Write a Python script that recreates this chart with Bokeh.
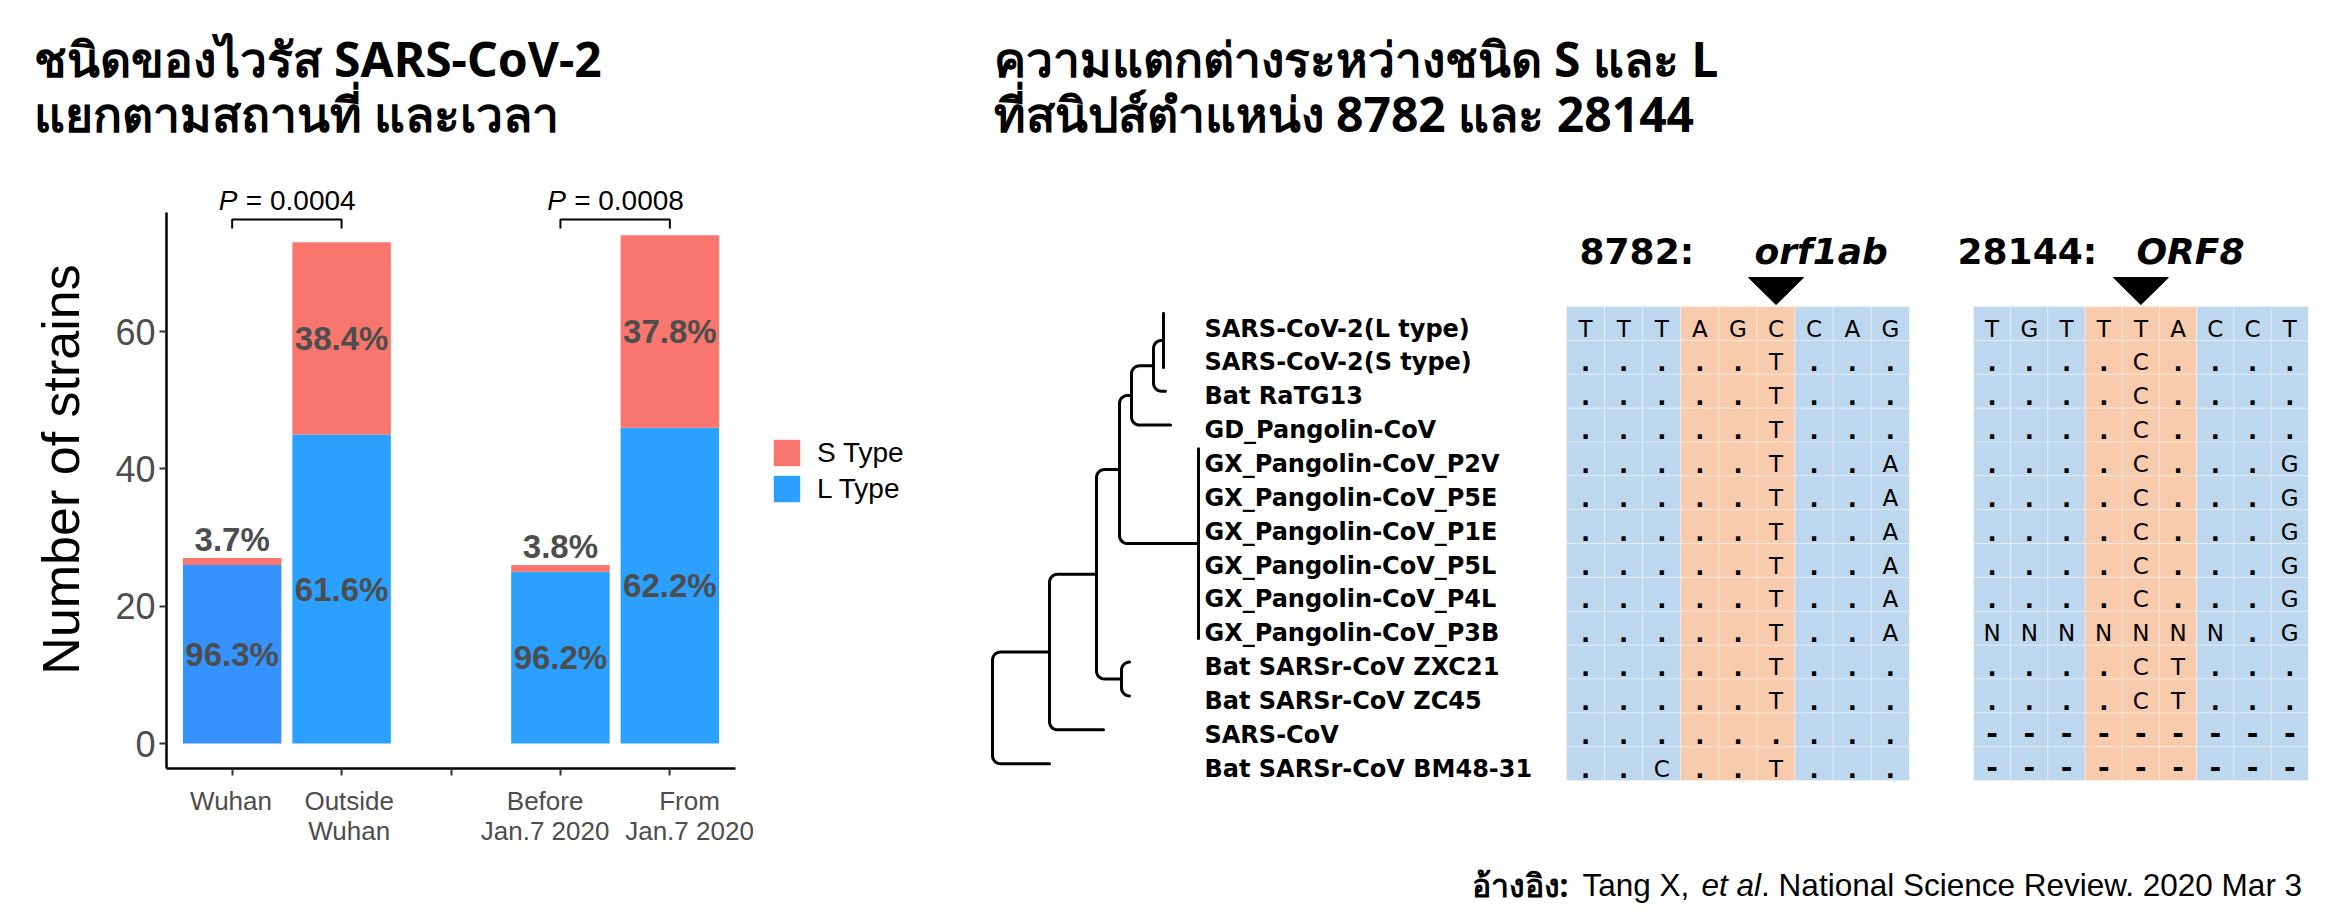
import math
from bokeh.plotting import figure
from bokeh.models import (Range1d, Label, Legend, LegendItem, ColumnDataSource, FixedTicker,
                          LinearAxis)
from bokeh.layouts import row, column
from bokeh.embed import file_html
from bokeh.resources import INLINE
from bokeh.core.properties import value

# ---------------- data : bar chart ----------------
tick_pos = [1, 2, 3, 4, 5]
group_labels = ["Wuhan", "Outside\nWuhan", "Before\nJan.7 2020", "From\nJan.7 2020"]
bar_pos = [1, 2, 4, 5]
l_type = [26, 45, 25, 46]
s_type = [1, 28, 1, 28]
p_pairs = [(1, 2), (4, 5)]
p_values = ["0.0004", "0.0008"]
y_ticks = [0, 20, 40, 60]

# ---------------- data : alignment ----------------
strains = ["SARS-CoV-2(L type)", "SARS-CoV-2(S type)", "Bat RaTG13", "GD_Pangolin-CoV",
           "GX_Pangolin-CoV_P2V", "GX_Pangolin-CoV_P5E", "GX_Pangolin-CoV_P1E",
           "GX_Pangolin-CoV_P5L", "GX_Pangolin-CoV_P4L", "GX_Pangolin-CoV_P3B",
           "Bat SARSr-CoV ZXC21", "Bat SARSr-CoV ZC45", "SARS-CoV", "Bat SARSr-CoV BM48-31"]
seq_8782 = ["TTTAGCCAG", ".....T...", ".....T...", ".....T...",
            ".....T..A", ".....T..A", ".....T..A", ".....T..A", ".....T..A", ".....T..A",
            ".....T...", ".....T...", ".........", "..C..T..."]
seq_28144 = ["TGTTTACCT", "....C....", "....C....", "....C....",
             "....C...G", "....C...G", "....C...G", "....C...G", "....C...G", "NNNNNNN.G",
             "....CT...", "....CT...", "---------", "---------"]
snp_col = [5, 4]
highlight_cols = [3, 4, 5]

# tree: (depth, leaf_row) or (depth, [children])
tree = (0.00, [
    (0.57, 13),
    (0.57, [
        (1.11, 12),
        (1.04, [
            (1.29, [(1.37, 10), (1.37, 11)]),
            (1.27, [
                (2.06, [(2.06, 4), (2.06, 5), (2.06, 6), (2.06, 7), (2.06, 8), (2.06, 9)]),
                (1.39, [
                    (1.78, 3),
                    (1.61, [
                        (1.73, 2),
                        (1.71, [(1.71, 0), (1.71, 1)]),
                    ]),
                ]),
            ]),
        ]),
    ]),
])

# ---------------- styles / layout ----------------
RED = "#F8766D"
BLUE_L = ["#3592FE", "#2BA0FE", "#2BA0FE", "#2BA0FE"]
CELL_BLUE = "#BDD7EE"
CELL_ORANGE = "#F8CBAD"
GREY = "#4D4D4D"
ARIAL = "Liberation Sans"
DEJ = "DejaVu Sans"
THAI = "Noto Sans"

PAGE_W, PAGE_H = 2330, 916
HEAD_H = 150
BODY_H = PAGE_H - HEAD_H
W1 = 950
W2 = PAGE_W - W1

# ---------- header (titles) ----------
head = figure(width=PAGE_W, height=HEAD_H, x_range=Range1d(0, PAGE_W), y_range=Range1d(0, HEAD_H),
              x_axis_type=None, y_axis_type=None, min_border=0, output_backend="svg",
              toolbar_location=None)
head.outline_line_color = None
head.frame_align = False
titles = [("ชนิดของไวรัส SARS-CoV-2", 33, 58), ("แยกตามสถานที่ และเวลา", 33, 113),
          ("ความแตกต่างระหว่างชนิด S และ L", 993, 58), ("ที่สนิปส์ตำแหน่ง 8782 และ 28144", 993, 113)]
for txt, x, mid in titles:
    head.add_layout(Label(x=x, y=HEAD_H - mid, x_units="screen", y_units="screen", text=txt,
                          text_font=THAI, text_font_style="bold", text_font_size="48px",
                          text_color="black", text_align="left", text_baseline="middle"))

# ---------- bar chart ----------
FL, FT, FB = 166, 170, 768          # page pixels of frame left / top / bottom
AX_RIGHT = 735
UNIT_X = (AX_RIGHT - FL) / 5.2
PX_PER_UNIT = 412 / 60.0
ZERO_PX = 743
y_lo = -(FB - ZERO_PX) / PX_PER_UNIT
y_axis_top = (ZERO_PX - 212) / PX_PER_UNIT

p1 = figure(width=W1, height=BODY_H,
            x_range=Range1d(0.4, 0.4 + (W1 - FL) / UNIT_X),
            y_range=Range1d(y_lo, (ZERO_PX - FT) / PX_PER_UNIT),
            output_backend="svg", toolbar_location=None,
            min_border_left=FL, min_border_right=0,
            min_border_top=FT - HEAD_H, min_border_bottom=PAGE_H - FB)
p1.frame_align = False
p1.grid.visible = False
p1.outline_line_color = None

tot = [l + s for l, s in zip(l_type, s_type)]
src = ColumnDataSource(dict(x=bar_pos, l=l_type, tot=tot, lcol=BLUE_L))
r_l = p1.vbar(x="x", bottom=0, top="l", width=0.9, fill_color="lcol", line_color=None, source=src)
r_s = p1.vbar(x="x", bottom="l", top="tot", width=0.9, fill_color=RED, line_color=None, source=src)

lx, ly, lt = [], [], []
for x, l, s in zip(bar_pos, l_type, s_type):
    t = l + s
    lx.append(x); ly.append(l / 2.0); lt.append(f"{100.0 * l / t:.1f}%")
    lx.append(x)
    ly.append(l + s / 2.0 if s >= 5 else t + 2.7)
    lt.append(f"{100.0 * s / t:.1f}%")
p1.text(x=lx, y=ly, text=lt, text_font=value(ARIAL), text_font_style="bold",
        text_font_size="33px", text_color=GREY, text_align="center", text_baseline="middle")

# p-value brackets
BR_Y, BR_LEG = 76.3, 75.0
bxs, bys = [], []
for a, b in p_pairs:
    bxs.append([a, a, b, b]); bys.append([BR_LEG, BR_Y, BR_Y, BR_LEG])
p1.multi_line(xs=bxs, ys=bys, line_color="black", line_width=2)
for (a, b), pv in zip(p_pairs, p_values):
    mid = (a + b) / 2.0
    p1.add_layout(Label(x=mid, y=79.1, text="P", x_offset=-68, text_align="left",
                        text_baseline="middle", text_font=ARIAL, text_font_style="italic",
                        text_font_size="28px", text_color="black"))
    p1.add_layout(Label(x=mid, y=79.1, text="= " + pv, x_offset=-41, text_align="left",
                        text_baseline="middle", text_font=ARIAL, text_font_size="28px",
                        text_color="black"))

# axes
p1.xaxis.ticker = FixedTicker(ticks=tick_pos)
p1.xaxis.major_label_overrides = {k: "" for k in tick_pos}
p1.xaxis.major_label_text_font_size = "1px"
p1.xaxis.major_label_standoff = 0
p1.xaxis.bounds = (0.4, 5.6)
p1.yaxis.ticker = FixedTicker(ticks=y_ticks)
p1.yaxis.bounds = (y_lo, y_axis_top)
for ax in (p1.xaxis, p1.yaxis):
    ax.axis_line_width = 2.5
    ax.axis_line_color = "black"
    ax.major_tick_line_color = "#333333"
    ax.major_tick_line_width = 2
    ax.major_tick_out = 7
    ax.major_tick_in = 0
    ax.minor_tick_line_color = None
    ax.major_label_text_font = ARIAL
    ax.major_label_text_color = GREY
p1.yaxis.major_label_text_font_size = "36px"
p1.yaxis.major_label_standoff = 4
p1.yaxis.axis_label = "Number of strains"
p1.yaxis.axis_label_text_font = ARIAL
p1.yaxis.axis_label_text_font_style = "normal"
p1.yaxis.axis_label_text_font_size = "52px"
p1.yaxis.axis_label_text_color = "black"
p1.yaxis.axis_label_standoff = 22

# category labels (second, line-less axis so each label can sit where the reference has it)
label_at = [0.99, 2.07, 3.86, 5.18]
lab_axis = LinearAxis(ticker=FixedTicker(ticks=label_at),
                      major_label_overrides={k: v for k, v in zip(label_at, group_labels)},
                      axis_line_color=None, major_tick_line_color=None,
                      minor_tick_line_color=None, major_label_standoff=4,
                      major_label_text_font=ARIAL, major_label_text_font_size="26px",
                      major_label_text_color=GREY, major_label_text_line_height=1.0)
p1.add_layout(lab_axis, "below")

# legend (inside the widened frame); location = bottom-left corner relative to frame
legend = Legend(items=[LegendItem(label="S Type", renderers=[r_s], index=1),
                       LegendItem(label="L Type", renderers=[r_l], index=1)],
                location=(770 - FL, FB - 505), glyph_width=33, glyph_height=33,
                label_height=33, spacing=3, padding=0, margin=0, label_standoff=14,
                label_text_font=ARIAL, label_text_font_size="28px", label_text_color="black",
                border_line_color=None, background_fill_alpha=0)
p1.add_layout(legend)

# ---------- right panel ----------
X0 = W1
ROW0, ROWH = 323.0, 33.86
p2 = figure(width=W2, height=BODY_H, x_range=Range1d(X0, X0 + W2),
            y_range=Range1d((PAGE_H - ROW0) / ROWH, (HEAD_H - ROW0) / ROWH),
            x_axis_type=None, y_axis_type=None, min_border=0,
            output_backend="svg", toolbar_location=None)
p2.frame_align = False
p2.outline_line_color = None

grids = [dict(seqs=seq_8782, x0=1566.0, cw=38.1, snp=snp_col[0],
              head=[("8782:", 1579, "normal"), ("orf1ab", 1754, "italic")]),
         dict(seqs=seq_28144, x0=1973.0, cw=37.2, snp=snp_col[1],
              head=[("28144:", 1957, "normal"), ("ORF8", 2136, "italic")])]

cx, cy, cw_, cc = [], [], [], []
let_x, let_y, let_t = [], [], []
dot_x, dot_y = [], []
dash_x, dash_y = [], []
tri_x, tri_y = [], []
for g in grids:
    for r, s in enumerate(g["seqs"]):
        for c, ch in enumerate(s):
            xc = g["x0"] + (c + 0.5) * g["cw"]
            cx.append(xc); cy.append(r); cw_.append(g["cw"])
            cc.append(CELL_ORANGE if c in highlight_cols else CELL_BLUE)
            if ch == ".":
                dot_x.append(xc); dot_y.append(r)
            elif ch == "-":
                dash_x.append(xc); dash_y.append(r)
            else:
                let_x.append(xc); let_y.append(r); let_t.append(ch)
    xs = g["x0"] + (g["snp"] + 0.5) * g["cw"]
    tri_x.append([xs - 27.5, xs + 27.5, xs])
    tri_y.append([-0.5 - 29 / ROWH, -0.5 - 29 / ROWH, -0.5 - 2 / ROWH])
    for txt, hx, st in g["head"]:
        p2.text(x=[hx], y=[-0.5], text=[txt], y_offset=-55, text_font=value(DEJ),
                text_font_style="bold " + st if st != "normal" else "bold",
                text_font_size="36px", text_color="black", text_align="left",
                text_baseline="alphabetic")

p2.rect(x=cx, y=cy, width=cw_, height=1, fill_color=cc, line_color="white", line_alpha=0.35,
        line_width=1)
p2.text(x=let_x, y=let_y, text=let_t, y_offset=5, text_font=value(DEJ), text_font_size="23px",
        text_color="black", text_align="center", text_baseline="alphabetic")
p2.text(x=dot_x, y=dot_y, text=["."] * len(dot_x), y_offset=5, text_font=value(DEJ),
        text_font_style="bold", text_font_size="24px", text_color="black",
        text_align="center", text_baseline="alphabetic")
p2.text(x=dash_x, y=dash_y, text=["-"] * len(dash_x), y_offset=3, text_font=value(DEJ),
        text_font_style="bold", text_font_size="28px", text_color="black",
        text_align="center", text_baseline="middle")
p2.patches(xs=tri_x, ys=tri_y, fill_color="black", line_color="black")

# strain labels
p2.text(x=[1204] * len(strains), y=list(range(len(strains))), text=strains, y_offset=5,
        text_font=value(DEJ), text_font_style="bold", text_font_size="24px",
        text_color="black", text_align="left", text_baseline="alphabetic")

# dendrogram
DX0, DSC = 992.0, 100.0
paths_x, paths_y = [], []


def layout(node):
    d, kids = node
    if not isinstance(kids, list):
        return DX0 + d * DSC, float(kids)
    pts = [layout(k) for k in kids]
    x = DX0 + d * DSC
    ys = [p[1] for p in pts]
    lo, hi = min(ys), max(ys)
    if all(abs(p[0] - x) < 0.5 for p in pts):
        paths_x.append([x, x]); paths_y.append([lo - 0.3, hi + 0.3])
        return x, (lo + hi) / 2.0
    y = (lo + hi) / 2.0
    for (kx, ky) in pts:
        r = min(8.0, kx - x)
        ry = r / ROWH
        sg = 1.0 if ky > y else -1.0
        px_, py_ = [x], [y]
        n = 8
        for i in range(n + 1):
            ph = math.pi / 2 * i / n
            px_.append(x + r - r * math.cos(ph))
            py_.append(ky - sg * ry + sg * ry * math.sin(ph))
        px_.append(kx); py_.append(ky)
        paths_x.append(px_); paths_y.append(py_)
    return x, y


layout(tree)
p2.multi_line(xs=paths_x, ys=paths_y, line_color="black", line_width=3, line_cap="round",
              line_join="round")

# footer
FOOT_MID = PAGE_H - 884
p2.add_layout(Label(x=1568 - X0, y=FOOT_MID, x_units="screen", y_units="screen",
                    text="อ้างอิง:", text_font=THAI, text_font_style="bold",
                    text_font_size="32px", text_color="black", text_align="right",
                    text_baseline="middle"))
fx = 1582 - X0
FS = 31.5
for txt, st, wem in [("Tang X,", "normal", 3.78), ("et al", "italic", 1.89),
                     (". National Science Review. 2020 Mar 3", "normal", 0)]:
    p2.add_layout(Label(x=fx, y=FOOT_MID, x_units="screen", y_units="screen", text=txt,
                        text_font=ARIAL, text_font_style=st, text_font_size=f"{FS}px",
                        text_color="black", text_align="left", text_baseline="middle"))
    fx += wem * FS

page = column(head, row(p1, p2))
open("out.html", "w").write(file_html(page, INLINE))
